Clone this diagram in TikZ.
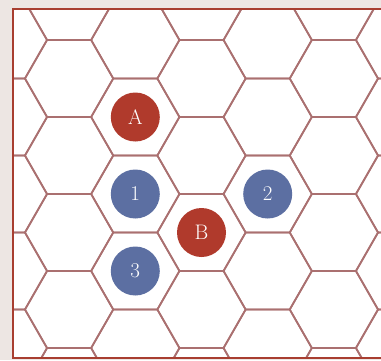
\documentclass[tikz,border=0pt]{standalone}
\usepackage{fontspec}
\usetikzlibrary{calc}

\definecolor{panelbg}{RGB}{237,230,227}
\definecolor{framered}{RGB}{168,62,48}
\definecolor{hexline}{RGB}{170,112,112}
\definecolor{tokenred}{RGB}{176,58,44}
\definecolor{tokenblue}{RGB}{92,111,162}

\tikzset{
  hexedge/.style={draw=hexline, line width=1.7pt, line join=round},
  frameline/.style={draw=framered, line width=2.6pt},
  token/.style={circle, minimum size=49pt, inner sep=0pt, text=white,
    font=\fontsize{21}{21}\selectfont},
  redtoken/.style={token, fill=tokenred},
  bluetoken/.style={token, fill=tokenblue}
}

\begin{document}
\begin{tikzpicture}[x=1pt, y=-1pt]
  \useasboundingbox (0,0) rectangle (381,360);
  \fill[panelbg] (0,0) rectangle (381,360);
  \fill[white] (13,9) rectangle (381,358);
  % hex grid, flat tops
  \begin{scope}
    \clip (13,9) rectangle (381,358);
    \foreach \k in {0,...,6} {
      \foreach \j in {-1,...,5} {
        \pgfmathsetmacro{\cx}{2.9+66.2*\k}
        \pgfmathsetmacro{\cy}{40-38.5*mod(\k,2)+77*\j}
        \draw[hexedge, shift={(\cx,\cy)}]
          (44.2,0) -- (22.1,38.5) -- (-22.1,38.5) -- (-44.2,0)
          -- (-22.1,-38.5) -- (22.1,-38.5) -- cycle;
      }
    }
  \end{scope}
  \draw[frameline] (381,9) -- (13,9) -- (13,358) -- (381,358);
  % tokens
  \node[redtoken] (A) at (135.3,117) {A};
  \node[redtoken] (B) at (201.5,232.5) {B};
  \node[bluetoken] (one) at (135.3,194) {1};
  \node[bluetoken] (two) at (267.7,194) {2};
  \node[bluetoken] (three) at (135.3,271) {3};
\end{tikzpicture}
\end{document}
